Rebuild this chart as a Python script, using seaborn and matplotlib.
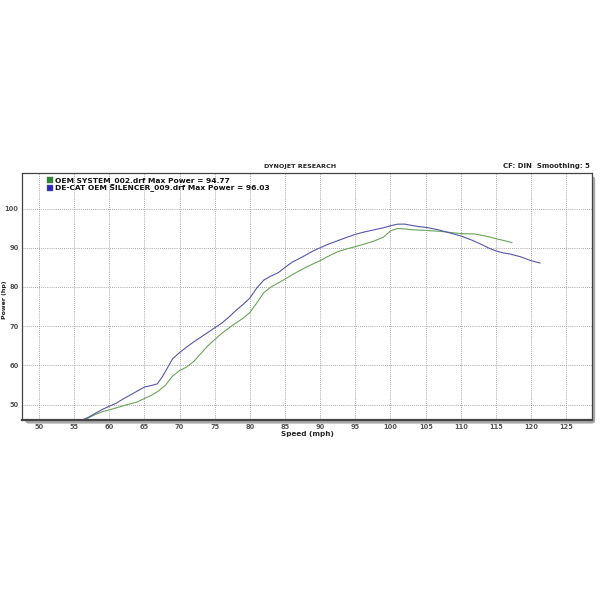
import numpy as np
import pandas as pd
import seaborn as sns
import matplotlib.pyplot as plt
from matplotlib.patches import FancyBboxPatch
from matplotlib.ticker import MultipleLocator

# speed (mph) / power (hp)
oem_speed = [56.3, 57, 58, 59, 60, 61, 62.5, 64, 65, 66, 67, 68, 69, 70, 71, 72, 73,
             74, 75, 76, 77.5, 79, 80, 81, 82, 83, 84, 85, 86, 87.5, 89, 90, 91,
             92.5, 94, 95, 96, 97.5, 99, 100, 101, 102, 103, 105, 107, 109, 110,
             112, 114, 115, 116, 117.3]
oem_power = [46.0, 46.6, 47.5, 48.2, 48.7, 49.2, 50.0, 50.7, 51.6, 52.4, 53.5, 55.0,
             57.3, 58.7, 59.6, 61.0, 63.0, 65.0, 66.6, 68.2, 70.2, 72.0, 73.5, 76.0,
             78.6, 80.0, 81.0, 82.0, 83.1, 84.6, 85.9, 86.7, 87.7, 89.0, 89.8, 90.3,
             90.8, 91.6, 92.7, 94.3, 94.9, 94.8, 94.6, 94.4, 94.2, 93.8, 93.6, 93.5,
             92.8, 92.3, 91.9, 91.3]
decat_speed = [56.0, 57, 58, 59, 60, 61, 62, 63, 64, 65, 66, 66.8, 67.5, 68.3, 69,
               70, 71, 72, 73, 74, 75, 76, 77, 78, 79, 80, 81, 82, 83, 84, 85, 86,
               87.5, 89, 90, 91, 92.5, 94, 95, 96, 97.5, 99, 100, 101, 102, 103,
               104, 105, 106.5, 108, 110, 111.5, 113, 114, 115, 116, 117, 118.5,
               120, 121.3]
decat_power = [46.0, 46.8, 47.8, 48.8, 49.6, 50.4, 51.5, 52.5, 53.5, 54.5, 54.9, 55.3,
               57.0, 59.5, 61.7, 63.3, 64.7, 66.0, 67.2, 68.4, 69.6, 70.8, 72.3, 74.0,
               75.5, 77.2, 79.8, 81.8, 82.8, 83.6, 85.0, 86.3, 87.7, 89.2, 90.0, 90.8,
               91.8, 92.8, 93.4, 93.9, 94.5, 95.1, 95.6, 96.0, 96.03, 95.7, 95.4, 95.2,
               94.7, 94.0, 93.0, 92.0, 90.8, 89.9, 89.2, 88.7, 88.4, 87.7, 86.7, 86.1]

labels = ["OEM SYSTEM_002.drf Max Power = 94.77",
          "DE-CAT OEM SILENCER_009.drf Max Power = 96.03"]
line_cols = ["#6aa35a", "#5656aa"]
key_cols = ["#2f8a2f", "#2a2ac0"]

df = pd.concat([
    pd.DataFrame({"speed": oem_speed, "power": oem_power, "run": labels[0]}),
    pd.DataFrame({"speed": decat_speed, "power": decat_power, "run": labels[1]}),
])

sns.set_style("white")
plt.rcParams['font.family'] = ['DejaVu Sans']

fig = plt.figure(figsize=(6, 6), dpi=100)
ax = fig.add_axes([0.037, 0.30, 0.95, 0.412])

# drop shadow behind the plot frame
shadow = FancyBboxPatch((0.042, 0.294), 0.95, 0.412, boxstyle="round,pad=0,rounding_size=0.006",
                        transform=fig.transFigure, facecolor="#a8a8a8", edgecolor="none", zorder=-5)
fig.patches.append(shadow)

sns.lineplot(data=df, x="speed", y="power", hue="run", palette=line_cols,
             sort=False, linewidth=0.8, legend=False, ax=ax)

ax.set_xlim(47.6, 128.7)
ax.set_ylim(46.1, 109.1)
ax.xaxis.set_major_locator(MultipleLocator(5))
ax.xaxis.set_minor_locator(MultipleLocator(1))
ax.yaxis.set_major_locator(MultipleLocator(10))
ax.yaxis.set_minor_locator(MultipleLocator(2))
ax.set_yticks([50, 60, 70, 80, 90, 100])
ax.grid(True, which="major", linestyle=(0, (1, 1.5)), color="#8a8a8a", linewidth=0.6)
ax.tick_params(axis="both", which="major", labelsize=4.8, length=3.5, width=0.8,
               colors="#333333", direction="inout", pad=1)
ax.tick_params(axis="both", which="minor", length=2.5, width=0.6, colors="#333333",
               direction="inout")
for lbl in ax.get_xticklabels() + ax.get_yticklabels():
    lbl.set_fontweight("bold")
    lbl.set_color("#555555")
for s in ax.spines.values():
    s.set_color("#444444")
    s.set_linewidth(0.9)
ax.spines["bottom"].set_linewidth(1.6)

ax.set_xlabel("Speed (mph)", fontsize=5.2, fontweight="bold", labelpad=1)
ax.set_ylabel("")
# y label sits in the narrow left margin, placed by hand
fig.text(0.008, 0.50, "Power (hp)", rotation=90, ha="center", va="center",
         fontsize=4.5, fontweight="bold", color="#222222")

# legend squares with bold text, top-left corner
for i, (lab, kc) in enumerate(zip(labels, key_cols)):
    yy = 0.970 - i * 0.031
    ax.scatter([0.049], [yy], marker="s", s=15, color=kc, edgecolor="#666666",
               linewidth=0.3, transform=ax.transAxes, clip_on=False, zorder=5)
    ax.text(0.057, yy, lab, transform=ax.transAxes, fontsize=5.4, fontweight="bold",
            va="center", ha="left", color="#111111")

fig.text(0.5, 0.719, "DYNOJET RESEARCH", ha="center", va="bottom", fontsize=4.6,
         fontweight="bold", color="#222222")
fig.text(0.983, 0.719, "CF: DIN  Smoothing: 5", ha="right", va="bottom", fontsize=5,
         fontweight="bold", color="#222222")

fig.savefig("out.png", dpi=100, facecolor="white")
